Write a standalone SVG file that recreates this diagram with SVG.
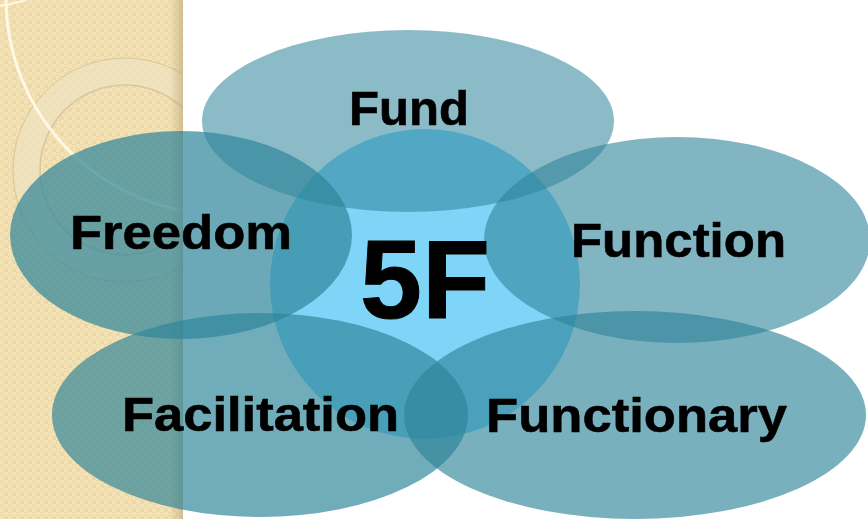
<svg xmlns="http://www.w3.org/2000/svg" width="868" height="519" viewBox="0 0 868 519">
  <style>
    .lbl { font-family: "Liberation Sans", Arial, sans-serif; font-weight: bold; font-size: 49px; fill: #000; stroke: #000; stroke-width: 0.6px; text-anchor: middle; }
    .big { font-size: 112px; stroke-width: 1px; }
    .ell { fill: #2e849a; }
  </style>
  <defs>
    <pattern id="chk" width="8" height="8" patternUnits="userSpaceOnUse">
      <rect width="8" height="8" fill="#f4e2b4"/>
      <rect x="0" y="0" width="4" height="4" fill="#ecd9aa"/>
      <rect x="4" y="4" width="4" height="4" fill="#ecd9aa"/>
      <rect x="1" y="1" width="2" height="2" fill="#f6e6bd"/>
    </pattern>
    <linearGradient id="shadow" x1="0" y1="0" x2="1" y2="0">
      <stop offset="0" stop-color="#b8a276" stop-opacity="0"/>
      <stop offset="1" stop-color="#b8a276" stop-opacity="0.55"/>
    </linearGradient>
    <clipPath id="panelClip">
      <rect x="0" y="0" width="183" height="519"/>
    </clipPath>
  </defs>

  <rect width="868" height="519" fill="#ffffff"/>

  <g id="panel">
    <rect x="0" y="0" width="183" height="519" fill="url(#chk)"/>
    <g clip-path="url(#panelClip)">
      <circle cx="125" cy="170" r="98" fill="none" stroke="#efe2c2" stroke-opacity="0.7" stroke-width="27"/>
      <circle cx="125" cy="170" r="112" fill="none" stroke="#c9b48a" stroke-opacity="0.6" stroke-width="1"/>
      <circle cx="125" cy="170" r="85" fill="none" stroke="#c9b48a" stroke-opacity="0.6" stroke-width="1.5"/>
      <circle cx="222" cy="-2" r="216" fill="none" stroke="#fff8e4" stroke-width="3"/>
      <circle cx="-10" cy="-100" r="106" fill="none" stroke="#fff8e4" stroke-width="2"/>
    </g>
    <rect x="170" y="0" width="13" height="519" fill="url(#shadow)"/>
  </g>

  <g id="center">
    <circle cx="425" cy="284" r="155" fill="#7fd5f7"/>
  </g>

  <g id="fund">
    <ellipse class="ell" cx="408" cy="121" rx="206" ry="91" fill-opacity="0.55"/>
  </g>
  <g id="freedom">
    <ellipse class="ell" cx="181" cy="235" rx="171" ry="104" fill-opacity="0.7"/>
  </g>
  <g id="function">
    <ellipse class="ell" cx="677" cy="240" rx="193" ry="103" fill-opacity="0.6"/>
  </g>
  <g id="facilitation">
    <ellipse class="ell" cx="260" cy="415" rx="208" ry="102" fill-opacity="0.68"/>
  </g>
  <g id="functionary">
    <ellipse class="ell" cx="635" cy="415" rx="231" ry="104" fill-opacity="0.64"/>
  </g>

  <g id="connectors"></g>

  <g id="labels">
    <text class="lbl" x="409" y="125" textLength="120" lengthAdjust="spacingAndGlyphs">Fund</text>
    <text class="lbl" x="181" y="249" textLength="222" lengthAdjust="spacingAndGlyphs">Freedom</text>
    <text class="lbl" x="678.5" y="257" textLength="215" lengthAdjust="spacingAndGlyphs">Function</text>
    <text class="lbl" x="260.5" y="431" textLength="277" lengthAdjust="spacingAndGlyphs">Facilitation</text>
    <text class="lbl" x="636.5" y="432" textLength="301" lengthAdjust="spacingAndGlyphs">Functionary</text>
    <text class="lbl big" x="425" y="318" textLength="130" lengthAdjust="spacingAndGlyphs">5F</text>
  </g>
</svg>
